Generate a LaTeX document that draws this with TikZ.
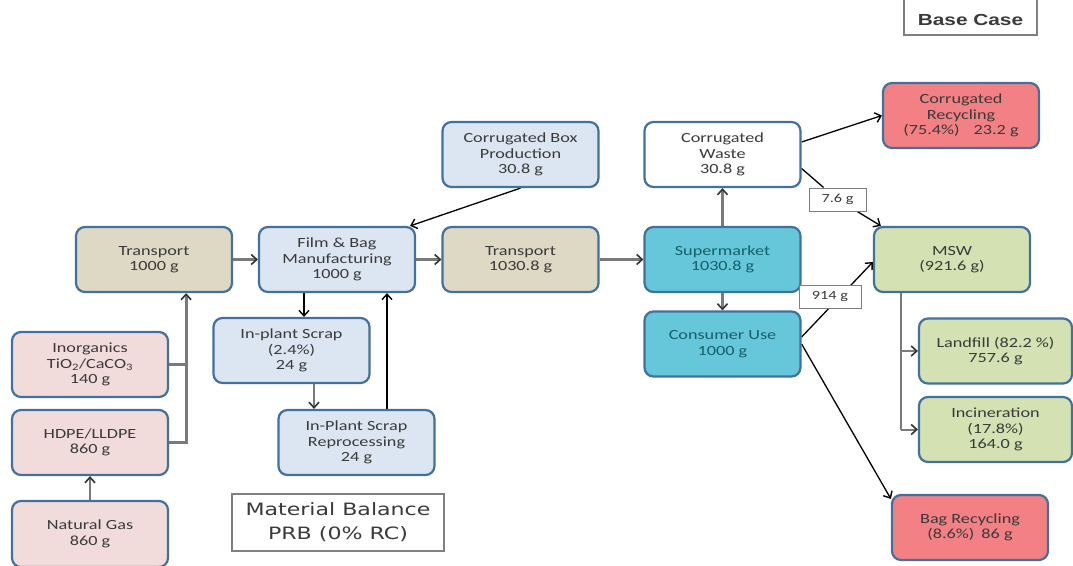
\documentclass[tikz,border=0pt]{standalone}
\usepackage{fontspec}
\setmainfont{Carlito}[FakeStretch=1.3]
\newfontfamily\titlefont{DejaVu Sans}[FakeStretch=1.3]
\newfontfamily\casefont{Liberation Sans}[FakeStretch=1.3]
\usetikzlibrary{arrows.meta,backgrounds}

\definecolor{boxline}{HTML}{41719C}
\definecolor{txt}{HTML}{3A3A3A}
\definecolor{tealtxt}{HTML}{14606A}
\definecolor{cTan}{HTML}{DDD9C4}
\definecolor{cBlue}{HTML}{DCE6F2}
\definecolor{cCyan}{HTML}{66C7DB}
\definecolor{cPink}{HTML}{F2DCDB}
\definecolor{cRed}{HTML}{F28084}
\definecolor{cGreen}{HTML}{D3E1B3}
\definecolor{lineGray}{HTML}{7A7A7A}
\definecolor{tipGray}{HTML}{333333}
\definecolor{frameGray}{HTML}{808080}

\pgfdeclarelayer{canvas}
\pgfsetlayers{canvas,background,main}

\begin{document}
\begin{tikzpicture}[x=1pt,y=-1pt,
  box/.style={draw=boxline, line width=2.2pt, rounded corners=9pt,
    minimum width=156pt, minimum height=65pt, inner sep=0pt,
    align=center, text=txt, font=\fontsize{14}{15.5}\selectfont},
  tanbox/.style={box, fill=cTan},
  bluebox/.style={box, fill=cBlue},
  cyanbox/.style={box, fill=cCyan, text=tealtxt},
  whitebox/.style={box, fill=white},
  pinkbox/.style={box, fill=cPink},
  redbox/.style={box, fill=cRed},
  greenbox/.style={box, fill=cGreen},
  flowlabel/.style={draw=frameGray, fill=white, line width=1pt,
    minimum height=23pt, inner sep=0pt, text=txt,
    font=\fontsize{12.5}{14}\selectfont},
  grayline/.style={draw=lineGray, line width=2.8pt},
  grayarr/.style={grayline, -{Straight Barb[length=5.5pt,width=10pt,line width=1.6pt,color=tipGray]}},
  thingrayarr/.style={grayarr, line width=2pt},
  blkarr/.style={draw=black, line width=1.3pt, -{Straight Barb[length=5.5pt,width=10pt,line width=1.4pt]}}
]
\clip (0,0) rectangle (1073,565);
\begin{pgfonlayer}{canvas}
  \fill[white] (0,0) rectangle (1073,565);
\end{pgfonlayer}

% ---- process boxes ----
\node[tanbox]   (tr1)  at (154,259.5)   {Transport\\1000 g};
\node[bluebox]  (fbm)  at (337,259.5)   {Film \& Bag\\Manufacturing\\1000 g};
\node[tanbox]   (tr2)  at (520.5,259.5) {Transport\\1030.8 g};
\node[cyanbox]  (sup)  at (722.5,259.5) {Supermarket\\1030.8 g};
\node[cyanbox]  (con)  at (722.5,344)   {Consumer Use\\1000 g};
\node[whitebox] (cw)   at (722.5,154.5) {Corrugated\\Waste\\30.8 g};
\node[bluebox]  (cbp)  at (520.5,154.5) {Corrugated Box\\Production\\30.8 g};
\node[redbox]   (crec) at (961,115.5)   {Corrugated\\Recycling\\(75.4\%)\quad 23.2 g};
\node[greenbox] (msw)  at (952,259.5)   {MSW\\(921.6 g)};
\node[greenbox, minimum width=153pt] (lf)  at (995.5,351)   {Landfill (82.2 \%)\\757.6 g};
\node[greenbox, minimum width=153pt] (inc) at (995.5,429.5) {Incineration\\(17.8\%)\\164.0 g};
\node[redbox]   (brec) at (970,527.5)   {Bag Recycling\\(8.6\%)\enspace 86 g};
\node[bluebox]  (scr)  at (291.5,350.5) {In-plant Scrap\\(2.4\%)\\24 g};
\node[bluebox]  (rep)  at (356.5,442.5) {In-Plant Scrap\\Reprocessing\\24 g};
\node[pinkbox]  (ino)  at (90,364.5)    {Inorganics\\TiO\textsubscript{2}/CaCO\textsubscript{3}\\140 g};
\node[pinkbox]  (hd)   at (90,442.5)    {HDPE/LLDPE\\860 g};
\node[pinkbox, minimum height=66pt] (ng) at (90,534) {Natural Gas\\860 g};

% ---- titles ----
\node[draw=frameGray, line width=1.2pt, minimum width=212pt, minimum height=57pt,
  inner sep=0pt, align=center, text=txt,
  font=\titlefont\fontsize{17}{24}\selectfont] (mb) at (338,522.5)
  {Material Balance\\PRB (0\% RC)};
\draw[frameGray, line width=1.2pt] (904,-5) rectangle (1037,35);
\node[text=txt, font=\casefont\bfseries\fontsize{16}{18}\selectfont] (bc) at (970.5,20) {Base Case};

% ---- flow labels ----
\node[flowlabel, minimum width=57pt] (l76)  at (837.5,199.5) {7.6 g};
\node[flowlabel, minimum width=62pt] (l914) at (830,297)     {914 g};

% ---- connectors ----
\begin{scope}[on background layer]
  \draw[grayarr] (tr1) -- (fbm);
  \draw[grayarr] (fbm) -- (tr2);
  \draw[grayarr] (tr2) -- (sup);
  \draw[grayarr] (sup) -- (cw);
  \draw[grayarr] (sup) -- (con);
  \draw[grayarr] (ng) -- (hd);
  \draw[grayarr] (hd.east) -- ++(17,0) coordinate (j) -- (j |- tr1.south);
  \draw[grayline] (ino.east) -- (ino.east -| j);
  \draw[blkarr] ([xshift=-33pt]fbm.south) -- ([xshift=-33pt]fbm.south |- scr.north);
  \draw[grayarr] ([xshift=22.5pt]scr.south) -- ([xshift=22.5pt]scr.south |- rep.north);
  \draw[blkarr] ([xshift=30.5pt]rep.north) -- ([xshift=30.5pt]rep.north |- fbm.south);
  \draw[blkarr] (cbp.south) -- ([xshift=-6pt]fbm.north east);
  \draw[blkarr] ([yshift=12.5pt]cw.east) -- (crec.west);
  \draw[blkarr] ([yshift=-14pt]cw.east) -- (l76) -- ([xshift=8pt]msw.north west);
  \draw[blkarr] ([yshift=7pt]con.east) -- ([yshift=-2.5pt]msw.west);
  \draw[blkarr] (con.east) -- ([yshift=-5pt]brec.north west);
  \draw[grayline] ([xshift=-51pt]msw.south) -- ([xshift=-51pt]msw.south |- inc.west);
  \draw[thingrayarr] ([xshift=-51pt]msw.south |- lf.west) -- (lf.west);
  \draw[thingrayarr] ([xshift=-51pt]msw.south |- inc.west) -- (inc.west);
\end{scope}
\end{tikzpicture}
\end{document}
